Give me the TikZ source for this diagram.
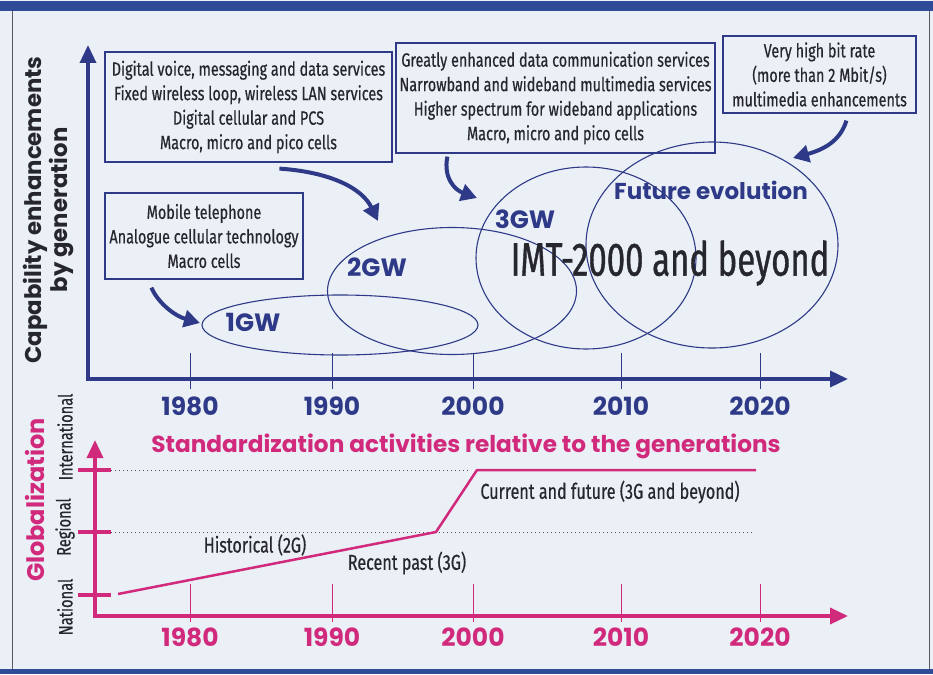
\documentclass[tikz,border=0pt]{standalone}
\usepackage{fontspec}
\usetikzlibrary{arrows.meta,shapes.geometric,calc}
\newfontfamily\geo{Poppins}
\newfontfamily\cond{Fira Sans}[FakeStretch=0.75,FakeBold=0.5]
\newfontfamily\condn{Fira Sans}[FakeStretch=0.7,FakeBold=0.8]
\definecolor{navy}{HTML}{2E3A87}
\definecolor{mag}{HTML}{D12A7C}
\definecolor{bg}{HTML}{EBF0F7}
\definecolor{ink}{HTML}{26262E}
\definecolor{topbar}{HTML}{2F4B98}
\tikzset{
  descbox/.style={draw=navy, line width=1.2pt, inner sep=0pt, align=center, text=ink,
    font=\cond\fontsize{19.2}{24.5}\selectfont},
  gen/.style={draw=navy, line width=1.1pt, ellipse, inner sep=0pt},
  genlabel/.style={text=navy, font=\geo\bfseries\fontsize{25}{26}\selectfont, inner sep=0pt},
  bigarrow/.style={navy, line width=4pt, -{Triangle[length=16pt,width=17pt]}},
  navyaxis/.style={navy, line width=3.5pt, {Triangle[length=18pt,width=16pt]}-{Triangle[length=18pt,width=16pt]}},
  magaxis/.style={mag, line width=3.5pt, {Triangle[length=18pt,width=16pt]}-{Triangle[length=18pt,width=16pt]}},
  yearnavy/.style={text=navy, font=\geo\bfseries\fontsize{25}{26}\selectfont, inner sep=0pt},
  yearmag/.style={text=mag, font=\geo\bfseries\fontsize{25}{26}\selectfont, inner sep=0pt},
  plain/.style={text=ink, font=\cond\fontsize{21.5}{24}\selectfont, inner sep=0pt},
  sidelab/.style={rotate=90, text=ink, font=\cond\fontsize{19.5}{20}\selectfont, inner sep=0pt},
}
\begin{document}
\begin{tikzpicture}[x=1pt,y=-1pt]
\useasboundingbox (0,0) rectangle (933,674);
% background and frame
\fill[bg] (0,0) rectangle (933,674);
\fill[topbar] (0,1) rectangle (933,11);
\fill[topbar] (0,669) rectangle (933,674);
\draw[gray!70!black, line width=1pt] (12,11) -- (12,669);
\draw[gray!70!black, line width=1pt] (929,11) -- (929,669);

% ---------- upper chart ----------
\coordinate (ytop) at (88,45);
\coordinate (orig) at (88,379);
\coordinate (xend) at (848,379);
\draw[navyaxis] (ytop) -- (orig) -- (xend);
\foreach \x/\yr in {190/1980,332/1990,473/2000,621/2010,760/2020}{
  \draw[navy, line width=1pt] (\x,353) -- (\x,389);
  \node[yearnavy] (ty\yr) at (\x,406) {\yr};
}
\node[rotate=90, align=center, text=ink, font=\geo\bfseries\fontsize{22.8}{26}\selectfont] (ylab) at (49,210)
  {Capability enhancements\\by generation};

% ellipses
\node[gen, minimum width=276pt, minimum height=60pt] (g1) at (340,325) {};
\node[gen, minimum width=249pt, minimum height=127pt] (g2) at (452,291) {};
\node[gen, minimum width=220pt, minimum height=182pt] (g3) at (586,258) {};
\node[gen, minimum width=252pt, minimum height=206pt] (g4) at (712,245) {};

\node[genlabel] (l1) at (253,322) {1GW};
\node[genlabel] (l2) at (377,267) {2GW};
\node[genlabel] (l3) at (525,219) {3GW};
\node[genlabel, font=\geo\bfseries\fontsize{23}{24}\selectfont] (l4) at (711,190) {Future evolution};
\node[text=ink, font=\condn\fontsize{47}{50}\selectfont, inner sep=0pt] (imt) at (670,263) {IMT-2000 and beyond};

% description boxes
\node[descbox, minimum width=287pt, minimum height=110pt] (bA) at (248.5,107)
  {Digital voice, messaging and data services\\Fixed wireless loop, wireless LAN services\\Digital cellular and PCS\\Macro, micro and pico cells};
\node[descbox, minimum width=198pt, minimum height=86pt] (bB) at (204,236)
  {Mobile telephone\\Analogue cellular technology\\Macro cells};
\node[descbox, minimum width=319pt, minimum height=110pt] (bC) at (555.5,98)
  {Greatly enhanced data communication services\\Narrowband and wideband multimedia services\\Higher spectrum for wideband applications\\Macro, micro and pico cells};
\node[descbox, minimum width=193pt, minimum height=77pt] (bD) at (819.5,74.5)
  {Very high bit rate\\(more than 2 Mbit/s)\\multimedia enhancements};

% curved arrows
\coordinate (a1s) at ($(bB.south west)+(47,8)$);
\coordinate (a1e) at (200,323);
\coordinate (a2s) at ($(bA.south west)+(175,6)$);
\coordinate (a2e) at (378,221);
\coordinate (a3s) at ($(bC.south west)+(52,3)$);
\coordinate (a3e) at (477,198);
\coordinate (a4s) at ($(bD.south west)+(124,7)$);
\coordinate (a4e) at (793,158);
\draw[bigarrow] (a1s) .. controls (158,303) and (175,316) .. (a1e);
\draw[bigarrow] (a2s) .. controls (330,172) and (362,188) .. (a2e);
\draw[bigarrow] (a3s) .. controls (443,178) and (455,190) .. (a3e);
\draw[bigarrow] (a4s) .. controls (840,142) and (822,150) .. (a4e);

% ---------- lower chart ----------
\node[text=mag, font=\geo\bfseries\fontsize{23.2}{26}\selectfont, inner sep=0pt] (stitle) at (466,446)
  {Standardization activities relative to the generations};
\coordinate (mtop) at (95,440);
\coordinate (morig) at (95,616);
\coordinate (mend) at (848,616);
\draw[ink!80, line width=1pt, dash pattern=on 1pt off 3pt] (111,470) -- (470,470);
\draw[ink!80, line width=1pt, dash pattern=on 1pt off 3pt] (111,532) -- (752,532);
\draw[magaxis] (mtop) -- (morig) -- (mend);
\foreach \y in {470,532,595}{
  \draw[mag, line width=4pt] (78,\y) -- (111,\y);
}
\foreach \x/\yr in {190/1980,332/1990,473/2000,621/2010,760/2020}{
  \draw[mag, line width=0.8pt] (\x,584) -- (\x,622);
  \node[yearmag] (tm\yr) at (\x,637) {\yr};
}
\coordinate (p0) at (118,594);
\coordinate (p1) at (436,532);
\coordinate (p2) at (477,470);
\coordinate (p3) at (756,470);
\draw[mag, line width=2.5pt] (p0) -- (p1) -- (p2) -- (p3);

\node[rotate=90, text=mag, font=\geo\bfseries\fontsize{24}{26}\selectfont, inner sep=0pt] (glob) at (35,500) {Globalization};
\node[sidelab] (lint) at (65,437) {International};
\node[sidelab] (lreg) at (65,527) {Regional};
\node[sidelab] (lnat) at (65,607) {National};

\node[plain] (hist) at (255,545) {Historical (2G)};
\node[plain] (rec) at (407,563) {Recent past (3G)};
\node[plain] (cur) at (610,492) {Current and future (3G and beyond)};
\end{tikzpicture}
\end{document}
